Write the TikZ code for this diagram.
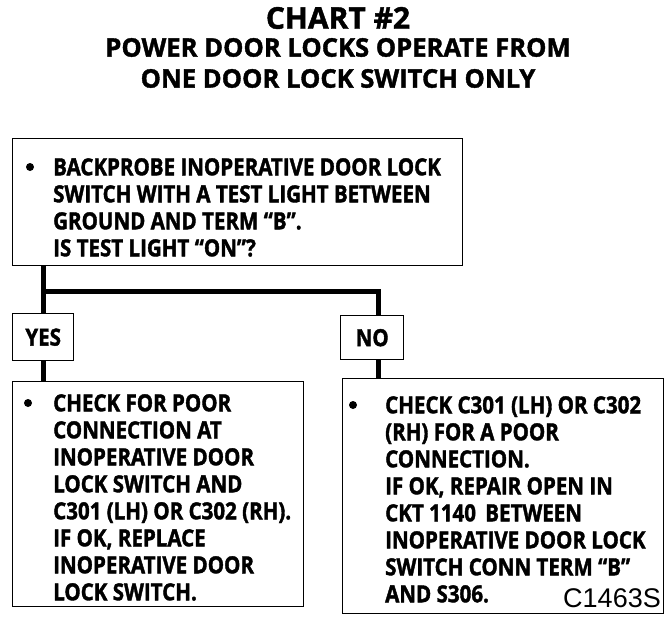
\documentclass[tikz,border=0pt]{standalone}
\usepackage{fontspec}
\usepackage{tikz}
\usetikzlibrary{positioning,calc}
\newfontfamily\chartfont{Open Sans}[BoldFeatures={FakeBold=1.6,FakeStretch=0.87}]
\newfontfamily\headfont{Open Sans}[BoldFeatures={FakeBold=1.4}]
\newfontfamily\codefont{Liberation Sans}

\begin{document}
\begin{tikzpicture}[x=1pt,y=-1pt,
  box/.style={draw,line width=1.4pt,anchor=north west,inner sep=0pt},
  conn/.style={line width=5pt},
  txt/.style={anchor=north west,align=left,inner sep=0pt,
    font=\chartfont\bfseries\fontsize{23.6}{27}\selectfont},
  head/.style={align=center,inner sep=0pt,font=\headfont\bfseries}
]
\useasboundingbox (0,0) rectangle (672,624);
% heading
\node[head,font=\headfont\bfseries\fontsize{30}{30}\selectfont] (chart) at (338,18) {CHART \#2};
\node[head,font=\headfont\bfseries\fontsize{25.6}{31}\selectfont] (title) at (338,63)
  {POWER DOOR LOCKS OPERATE FROM\\ONE DOOR LOCK SWITCH ONLY};
% boxes
\node[box,minimum width=450,minimum height=127] (test) at (12,138) {};
\node[box,minimum width=61,minimum height=47] (yes) at (12,313) {};
\node[box,minimum width=63,minimum height=44] (no) at (340,315) {};
\node[box,minimum width=291,minimum height=225] (left) at (12,381) {};
\node[box,minimum width=321,minimum height=235] (right) at (342,378) {};
\node[txt] at (yes.center) [anchor=center] (yeslab) {YES};
\node[txt] at (no.center) [anchor=center] (nolab) {NO};
% texts
\node[txt] (testtxt) at (53,158) {BACKPROBE INOPERATIVE DOOR LOCK\\
  SWITCH WITH A TEST LIGHT BETWEEN\\
  GROUND AND TERM “B”.\\
  IS TEST LIGHT “ON”?};
\node[txt] (lefttxt) at (53,394) {CHECK FOR POOR\\
  CONNECTION AT\\
  INOPERATIVE DOOR\\
  LOCK SWITCH AND\\
  C301 (LH) OR C302 (RH).\\
  IF OK, REPLACE\\
  INOPERATIVE DOOR\\
  LOCK SWITCH.};
\node[txt] (righttxt) at (385,396) {CHECK C301 (LH) OR C302\\
  (RH) FOR A POOR\\
  CONNECTION.\\
  IF OK, REPAIR OPEN IN\\
  CKT 1140\, BETWEEN\\
  INOPERATIVE DOOR LOCK\\
  SWITCH CONN TERM “B”\\
  AND S306.};
\node[anchor=base east,inner sep=0pt,font=\codefont\fontsize{27}{30}\selectfont] (code) at (661,607) {C1463S};
% bullets
\fill (30,167) circle (4);
\fill (28,403) circle (4);
\fill (353,405) circle (4);
% connectors
\coordinate (split) at (0,291);
\draw[conn] (yes.north |- test.south) -- (yes.north);
\draw[conn] (yes.north |- split) -- ([xshift=6]no.north |- split) -- ([xshift=6]no.north);
\draw[conn] (yes.south) -- (yes.south |- left.north);
\draw[conn] ([xshift=6]no.south) -- ([xshift=6]no.south |- right.north);
\end{tikzpicture}
\end{document}
